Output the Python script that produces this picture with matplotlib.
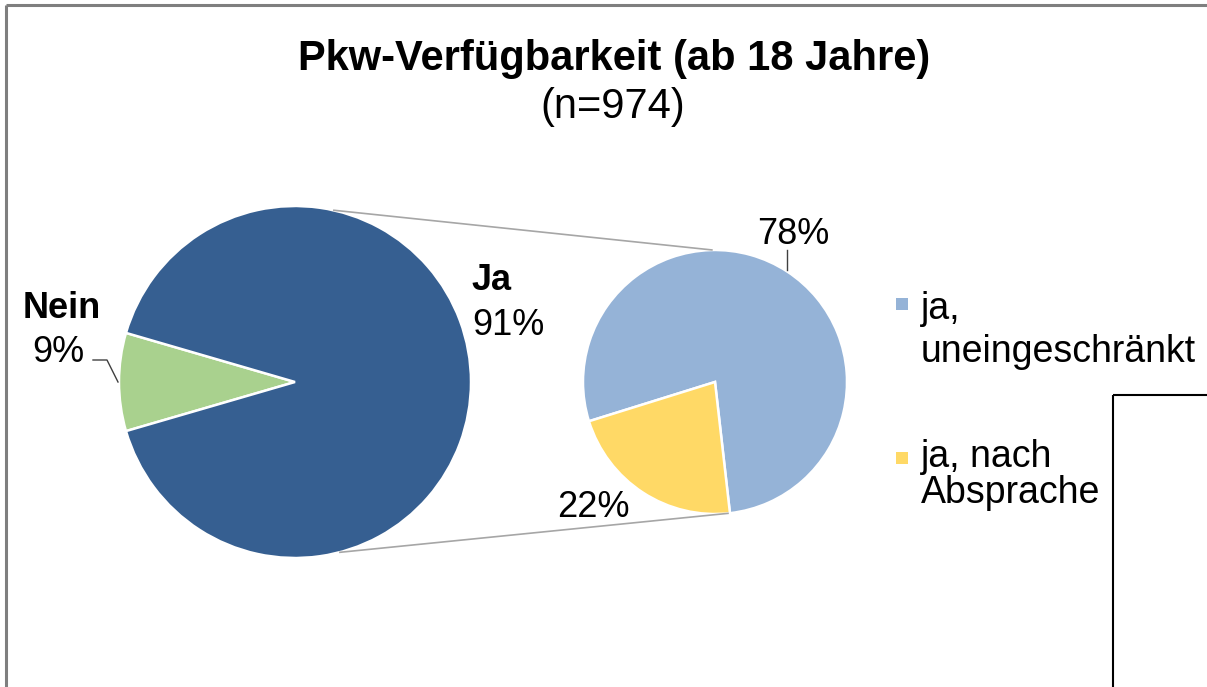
import numpy as np
import matplotlib.pyplot as plt
from matplotlib.patches import Rectangle

#%% Daten
haupt_labels = ["Nein", "Ja"]
haupt_werte = [9, 91]
haupt_farben = ["#A9D18E", "#365F91"]

detail_labels = ["ja,\nuneingeschränkt", "ja, nach\nAbsprache"]
detail_werte = [78, 22]
detail_farben = ["#95B3D7", "#FFD966"]

titel = "Pkw-Verfügbarkeit (ab 18 Jahre)"
untertitel = "(n=974)"

#%% Figur in Pixelkoordinaten
W, H = 1207, 687
plt.rcParams['font.family'] = ['Liberation Sans', 'DejaVu Sans']

fig = plt.figure(figsize=(W / 100, H / 100), dpi=100)
ax = fig.add_axes([0, 0, 1, 1])


def py(y):
    # Bildzeile (von oben) -> Datenkoordinate (von unten)
    return H - y


c1, r1 = (295, py(382)), 176
c2, r2 = (715, py(382)), 132

# Hauptkreis: "Nein" mittig nach links
start1 = 180 - haupt_werte[0] / 100 * 360 / 2
ax.pie(haupt_werte, colors=haupt_farben, startangle=start1, center=c1,
       radius=r1, wedgeprops=dict(edgecolor='white', linewidth=1.8), frame=True)

# Detailkreis
start2 = 276.5
ax.pie(detail_werte, colors=detail_farben, startangle=start2, center=c2,
       radius=r2, wedgeprops=dict(edgecolor='white', linewidth=1.8), frame=True)


def punkt(c, r, winkel):
    w = np.deg2rad(winkel)
    return c[0] + r * np.cos(w), c[1] + r * np.sin(w)


# Verbindungslinien
for a1, a2 in [(77.5, 91), (-75.5, -84)]:
    p1 = punkt(c1, r1, a1)
    p2 = punkt(c2, r2, a2)
    ax.plot([p1[0], p2[0]], [p1[1], p2[1]], color='#A6A6A6', lw=1.2,
            solid_capstyle='butt')

#%% Beschriftungen
ax.text(614, py(70), titel, fontsize=30, fontweight='bold', ha='center', va='baseline')
ax.text(613, py(118), untertitel, fontsize=30, ha='center', va='baseline')

ax.text(62, py(318), haupt_labels[0], fontsize=26, fontweight='bold', ha='center', va='baseline')
ax.text(58, py(362), f"{haupt_werte[0]}%", fontsize=26, ha='center', va='baseline')
ax.plot([93, 107, 118], [py(360), py(360), py(382)], color='#404040', lw=1)

ax.text(472, py(290), haupt_labels[1], fontsize=26, fontweight='bold', ha='left', va='baseline')
ax.text(472, py(335), f"{haupt_werte[1]}%", fontsize=26, ha='left', va='baseline')

ax.text(757, py(244), f"{detail_werte[0]}%", fontsize=26, ha='left', va='baseline')
ax.plot([787, 787], [py(250), py(270)], color='#404040', lw=1)
ax.text(557, py(517), f"{detail_werte[1]}%", fontsize=26, ha='left', va='baseline')

# Legende
for i, (lab, farbe) in enumerate(zip(detail_labels, detail_farben)):
    top = [298, 452][i]
    ax.add_patch(Rectangle((896, py(top + 12)), 12, 12, facecolor=farbe, edgecolor='none'))
    zeilen = lab.split("\n")
    basen = [[319, 362], [467, 503]][i]
    for z, b in zip(zeilen, basen):
        ax.text(921, py(b), z, fontsize=27, ha='left', va='baseline')

#%% Rahmen
ax.plot([6, W], [py(5), py(5)], color='#7F7F7F', lw=2.2, solid_capstyle='butt')
ax.plot([6, 6], [py(5), 0], color='#7F7F7F', lw=2.2, solid_capstyle='butt')
ax.plot([1113, 1113], [0, py(395)], color='black', lw=1.5, solid_capstyle='butt')
ax.plot([1113, W], [py(395), py(395)], color='black', lw=1.5, solid_capstyle='butt')

ax.set_xlim(0, W)
ax.set_ylim(0, H)
ax.axis('off')

fig.savefig('out.png', dpi=100)
